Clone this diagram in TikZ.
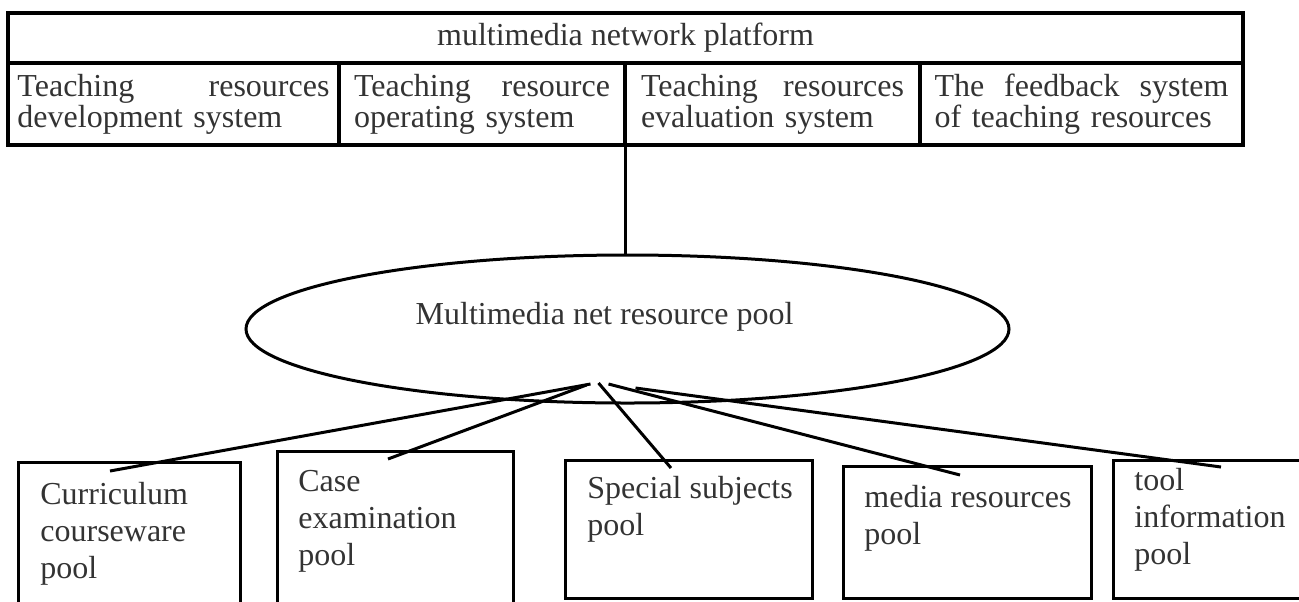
\documentclass[tikz,border=0pt]{standalone}
\usepackage{fontspec}
\setmainfont{Liberation Serif}
\usetikzlibrary{calc,shapes.geometric}
\definecolor{txt}{RGB}{51,51,51}
\tikzset{%
  frame/.style = { draw, line width=2pt, inner sep=0pt, outer sep=0pt, text=txt },
  cell/.style = { frame, align=left, minimum height=41pt, font=\fontsize{16}{15.5}\selectfont },
  poolbox/.style = { draw, line width=1.5pt, inner sep=0pt, outer sep=0pt, anchor=north west },
  pooltext/.style = { text=txt, align=left, inner sep=0pt, anchor=north west, font=\fontsize{16}{18.5}\selectfont },
  link/.style = { line width=1.5pt }
}

\begin{document}
\begin{tikzpicture}[x=0.5pt, y=-0.5pt]
  \useasboundingbox (0,0) rectangle (1299,601);

  % Platform table
  \node[frame, minimum width=617.5pt, minimum height=25pt, font=\fontsize{16}{16}\selectfont] (platform) at (625.5,38) {multimedia network platform};
  \node[cell, minimum width=165.5pt, text width=156pt] (develop) at (173.5,104) {Teaching\hspace{\fill}resources\\development system};
  \node[cell, minimum width=143pt, text width=128pt] (operate) at (482,104) {Teaching\hspace{\fill}resource\\operating system};
  \node[cell, minimum width=147.5pt, text width=131.5pt] (evaluate) at (772.5,104) {Teaching\hspace{\fill}resources\\evaluation system};
  \node[cell, minimum width=161.5pt, text width=147pt] (feedback) at (1081.5,104) {The\hspace{\fill}feedback\hspace{\fill}system\\of teaching resources};

  % Resource pool
  \node[draw, ellipse, line width=1.5pt, inner sep=0pt, outer sep=0pt, minimum width=381.5pt, minimum height=74pt] (pool) at (627.5,329) {};
  \node[text=txt, inner sep=0pt, font=\fontsize{16}{16}\selectfont] (poollabel) at (604.5,317) {Multimedia net resource pool};

  \draw[link] (evaluate.south west) -- (evaluate.south west |- pool.north);

  % Sub pools
  \node[poolbox, minimum width=111pt, minimum height=74pt] (curr) at (18,462) {};
  \node[poolbox, minimum width=118pt, minimum height=80pt] (case) at (277,451) {};
  \node[poolbox, minimum width=123.5pt, minimum height=69pt] (special) at (565,460) {};
  \node[poolbox, minimum width=124pt, minimum height=66pt] (media) at (843,466) {};
  \node[poolbox, minimum width=100pt, minimum height=69pt] (tool) at (1113,460) {};

  \node[pooltext] (currtext) at (40,482) {Curriculum\\courseware\\pool};
  \node[pooltext] (casetext) at (298,470) {Case\\examination\\pool};
  \node[pooltext] (specialtext) at (587,476) {Special subjects\\pool};
  \node[pooltext] (mediatext) at (864,485) {media resources\\pool};
  \node[pooltext] (tooltext) at (1134,468) {tool\\information\\pool};

  % Links to the pool
  \draw[link] ($(pool.south)+(-37,-19)$) -- ($(curr.north west)+(92,9)$);
  \draw[link] ($(pool.south)+(-41,-18)$) -- ($(case.north west)+(111,8)$);
  \draw[link] ($(pool.south)+(-29,-20)$) -- ($(special.north west)+(106,8)$);
  \draw[link] ($(pool.south)+(-19,-19)$) -- ($(media.north west)+(117,9)$);
  \draw[link] ($(pool.south)+(8,-15)$) -- ($(tool.north west)+(108,7)$);

\end{tikzpicture}
\end{document}
